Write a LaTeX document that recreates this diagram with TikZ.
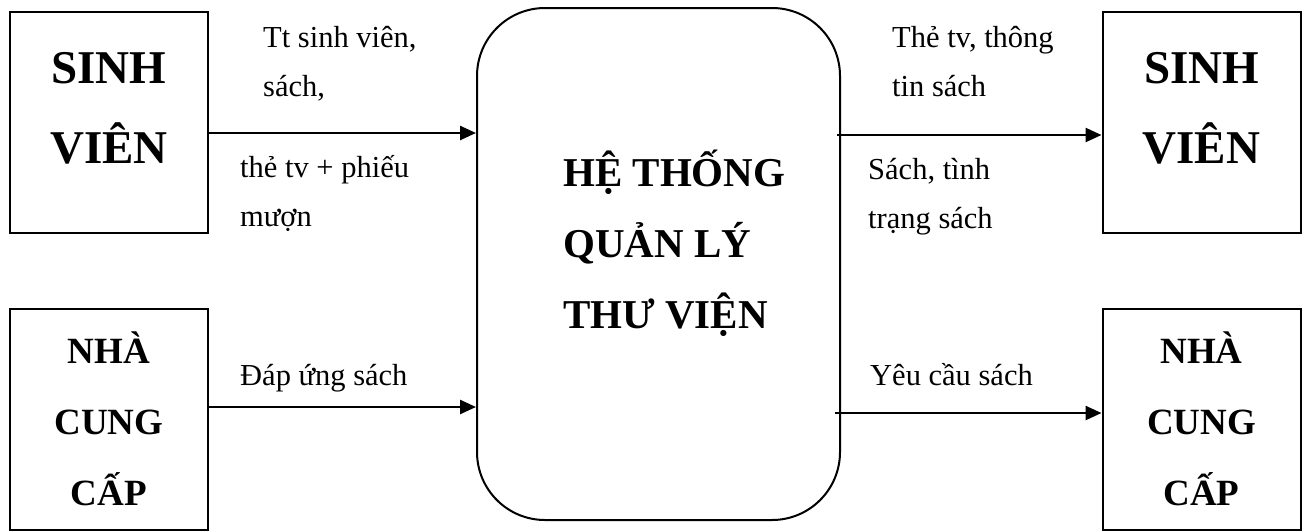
\documentclass[tikz,border=0pt]{standalone}
\usepackage{fontspec}
\setmainfont{Liberation Serif}
\usetikzlibrary{arrows.meta}
\tikzset{
  ent/.style={draw, line width=2pt, minimum width=198pt, minimum height=221pt, inner sep=0pt, align=center, font=\bfseries},
  sys/.style={draw, line width=2pt, rounded corners=68pt, minimum width=363pt, minimum height=512pt, inner sep=0pt},
  flow/.style={line width=2.5pt, -{Triangle[length=16pt,width=14pt]}},
  lbl/.style={inner sep=0pt, anchor=base west, align=left, font=\fontsize{30.5}{49}\selectfont},
  big/.style={inner sep=0pt, anchor=base, align=center, font=\fontsize{47}{80}\selectfont\bfseries},
  mid/.style={font=\fontsize{37}{71}\selectfont\bfseries},
  ctr/.style={inner sep=0pt, anchor=base west, align=left, font=\fontsize{41}{71}\selectfont\bfseries}
}
\begin{document}
\begin{tikzpicture}[x=1pt,y=-1pt]
\useasboundingbox (0,0) rectangle (1305,531);
% entities
\node[ent] (sv1) at (109,122) {};
\node[big] (sv1t) at (109,163) {SINH\\VIÊN};
\node[ent, mid] (ncc1) at (109,419) {NHÀ\\CUNG\\CẤP};
\node[ent] (sv2) at (1201.5,122) {};
\node[big] (sv2t) at (1201.5,163) {SINH\\VIÊN};
\node[ent, mid] (ncc2) at (1201.5,419) {NHÀ\\CUNG\\CẤP};
% system
\node[sys] (ht) at (658.5,264) {};
\node[ctr] (httext) at (563,328) {HỆ THỐNG\\QUẢN LÝ\\THƯ VIỆN};
% flow heights
\coordinate (y1) at (0,133);
\coordinate (y2) at (0,407);
\coordinate (y3) at (0,135);
\coordinate (y4) at (0,413);
% flows
\draw[flow] (sv1.east |- y1) -- (ht.west |- y1);
\draw[flow] (ncc1.east |- y2) -- (ht.west |- y2);
\draw[flow] ([xshift=-4pt]ht.east |- y3) -- (sv2.west |- y3);
\draw[flow] ([xshift=-6pt]ht.east |- y4) -- (ncc2.west |- y4);
% labels
\node[lbl] (l1) at (263,96) {Tt sinh viên,\\sách,};
\node[lbl] (l2) at (240,226) {thẻ tv + phiếu\\mượn};
\node[lbl] (l3) at (240,385) {Đáp ứng sách};
\node[lbl] (l4) at (892,96) {Thẻ tv, thông\\tin sách};
\node[lbl] (l5) at (868,228) {Sách, tình\\trạng sách};
\node[lbl] (l6) at (870,385) {Yêu cầu sách};
\end{tikzpicture}
\end{document}
